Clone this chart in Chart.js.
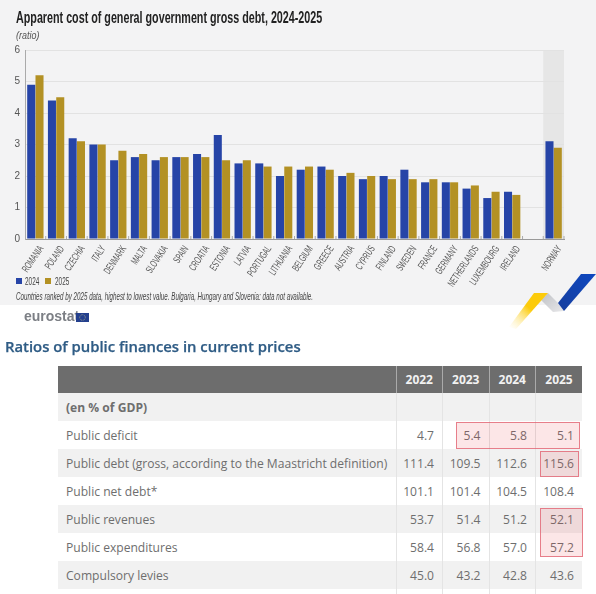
<!DOCTYPE html>
<html>
<head>
<meta charset="utf-8">
<script src="https://cdn.jsdelivr.net/npm/chart.js@4/dist/chart.umd.js"></script>
<style>
  html, body { margin: 0; padding: 0; background: #fff; }
  body { position: relative; width: 596px; height: 594px; overflow: hidden; }
  #panel { position: absolute; left: 0; top: 0; width: 596px; height: 305px; background: #f3f3f4; }
  #trend { position: absolute; left: 0; top: 0; }
  .narrow { position: absolute; font-family: "Liberation Sans", sans-serif; white-space: nowrap; transform-origin: left center; }
  #title { left: 16px; top: 8px; font-size: 16.5px; font-weight: bold; color: #222; }
  #unit { left: 16px; top: 29px; font-size: 10.5px; font-style: italic; color: #555; }
  #note { left: 16px; top: 290px; font-size: 11px; font-style: italic; color: #444; }
  .lg { position: absolute; top: 278px; width: 6px; height: 6px; }
  .lt { top: 275px; font-size: 11px; color: #444; }
  #logo { position: absolute; left: 24px; top: 308px; font: bold 14px "Liberation Sans", sans-serif; color: #7c7f85; }
  #flag { position: absolute; left: 76px; top: 313px; }
  #heading { position: absolute; left: 5px; top: 336px; font: 600 14.85px "Open Sans", sans-serif; color: #2f5c85; white-space: nowrap; -webkit-text-stroke: .25px #2f5c85; }
  #swoosh { position: absolute; left: 500px; top: 265px; }
  table { position: absolute; left: 58px; top: 366px; width: 524px; border-collapse: collapse; table-layout: fixed;
          font: 12.1px "Open Sans", sans-serif; color: #6e6e6e; }
  th { background: #6d6d6d; color: #f2f2f2; font-size: 12px; font-weight: bold; height: 27px; padding: 0; text-align: center; border-left: 1px solid #aaa; }
  th:first-child, td:first-child { border-left: 0; }
  td { height: 28px; padding: 0 8px 0 0; text-align: right; border-left: 1px solid #e4e4e4; }
  td:first-child { text-align: left; padding-left: 8px; white-space: nowrap; }
  tr:nth-child(odd) td { background: #f1f1f1; }
  .box { position: absolute; background: rgba(230, 60, 70, .13); border: 1px solid rgba(225, 100, 115, .8); box-sizing: border-box; }
</style>
</head>
<body>
<div id="panel"></div>
<canvas id="trend" width="596" height="305"></canvas>
<div id="title" class="narrow" data-w="306">Apparent cost of general government gross debt, 2024-2025</div>
<div id="unit" class="narrow" data-w="23">(ratio)</div>
<div class="lg" style="left:16px;background:#2644a7"></div>
<div class="narrow lt" style="left:25px" data-w="14">2024</div>
<div class="lg" style="left:45px;background:#b39124"></div>
<div class="narrow lt" style="left:55px" data-w="14">2025</div>
<div id="note" class="narrow" data-w="297">Countries ranked by 2025 data, highest to lowest value. Bulgaria, Hungary and Slovenia: data not available.</div>
<svg id="swoosh" width="96" height="70" viewBox="0 0 96 70">
  <defs>
    <linearGradient id="gy" x1="1" y1="0" x2="0" y2="1">
      <stop offset="0.45" stop-color="#fccb0a"/><stop offset="1" stop-color="#fff" stop-opacity="0.3"/>
    </linearGradient>
    <linearGradient id="gg" x1="0" y1="0" x2="1" y2="1">
      <stop offset="0" stop-color="#bfc1c5"/><stop offset="1" stop-color="#e8e8ea"/>
    </linearGradient>
    <linearGradient id="gb" x1="1" y1="0" x2="0" y2="1">
      <stop offset="0" stop-color="#0d47c0"/><stop offset="1" stop-color="#173f9e"/>
    </linearGradient>
  </defs>
  <polygon points="48,28 58,38 64,46 53,47 41,35" fill="url(#gg)"/>
  <polygon points="9,62 34,28 48,28 16,64" fill="url(#gy)"/>
  <polygon points="81,9 96,9 64,46 58,38" fill="url(#gb)"/>
</svg>
<div id="logo">eurostat</div>
<svg id="flag" width="13" height="9" viewBox="0 0 13 9">
  <rect width="13" height="9" fill="#24408e"/>
  <circle cx="6.5" cy="4.5" r="2.8" fill="none" stroke="#b9b98a" stroke-width="0.8" stroke-dasharray="0.8 0.8"/>
</svg>
<div id="heading">Ratios of public finances in current prices</div>
<table id="ratios"></table>
<div class="box" style="left:456px;top:422px;width:124px;height:27px"></div>
<div class="box" style="left:540px;top:451px;width:39px;height:26px"></div>
<div class="box" style="left:540px;top:508px;width:43px;height:49px"></div>

<script>
const countries = ['ROMANIA', 'POLAND', 'CZECHIA', 'ITALY', 'DENMARK', 'MALTA', 'SLOVAKIA', 'SPAIN', 'CROATIA',
    'ESTONIA', 'LATVIA', 'PORTUGAL', 'LITHUANIA', 'BELGIUM', 'GREECE', 'AUSTRIA', 'CYPRUS', 'FINLAND', 'SWEDEN',
    'FRANCE', 'GERMANY', 'NETHERLANDS', 'LUXEMBOURG', 'IRELAND', '', 'NORWAY'];
const cost2024 = [4.9, 4.4, 3.2, 3.0, 2.5, 2.6, 2.5, 2.6, 2.7, 3.3, 2.4, 2.4, 2.0, 2.2, 2.3, 2.0, 1.9, 2.0, 2.2, 1.8, 1.8, 1.6, 1.3, 1.5, null, 3.1];
const cost2025 = [5.2, 4.5, 3.1, 3.0, 2.8, 2.7, 2.6, 2.6, 2.6, 2.5, 2.5, 2.3, 2.3, 2.3, 2.2, 2.1, 2.0, 1.9, 1.9, 1.9, 1.8, 1.7, 1.5, 1.4, null, 2.9];
const yTicks = [0, 1, 2, 3, 4, 5, 6];

const tableYears = ['2022', '2023', '2024', '2025'];
const tableRows = [
    ['(en % of GDP)', '', '', '', ''],
    ['Public deficit', '4.7', '5.4', '5.8', '5.1'],
    ['Public debt (gross, according to the Maastricht definition)', '111.4', '109.5', '112.6', '115.6'],
    ['Public net debt*', '101.1', '101.4', '104.5', '108.4'],
    ['Public revenues', '53.7', '51.4', '51.2', '52.1'],
    ['Public expenditures', '58.4', '56.8', '57.0', '57.2'],
    ['Compulsory levies', '45.0', '43.2', '42.8', '43.6'],
    ['', '', '', '', ''],
];

const BLUE = '#2644a7';
const GOLD = '#b39124';
const SANS = '"Liberation Sans", sans-serif';

// bande grise derrière la Norvège (hors UE)
const norwayBand = {
    id: 'norwayBand',
    beforeDraw(chart) {
        const { ctx, chartArea, scales } = chart;
        if (!scales.x) return;
        const step = scales.x.width / countries.length;
        const cx = scales.x.getPixelForValue(countries.length - 1);
        ctx.save();
        ctx.fillStyle = '#e6e6e6';
        ctx.fillRect(cx - step / 2, chartArea.top, step, chartArea.height);
        ctx.restore();
    },
};

// pas de police condensée installée: étiquettes tournées et resserrées à la main
const narrowLabels = {
    id: 'narrowLabels',
    afterDraw(chart) {
        const { ctx, chartArea, scales } = chart;
        const step = scales.x.width / countries.length;
        ctx.save();
        ctx.fillStyle = '#555';
        ctx.strokeStyle = '#aaa';
        ctx.font = '10.5px ' + SANS;
        ctx.textAlign = 'right';
        ctx.textBaseline = 'middle';
        countries.forEach((name, i) => {
            const cx = scales.x.getPixelForValue(i);
            ctx.beginPath();
            ctx.moveTo(cx + step / 2, chartArea.bottom);
            ctx.lineTo(cx + step / 2, chartArea.bottom - 3);
            ctx.stroke();
            ctx.save();
            ctx.translate(cx + 6, chartArea.bottom + 8);
            ctx.rotate(-56 * Math.PI / 180);
            ctx.scale(0.6, 1);
            ctx.fillText(name, 0, 0);
            ctx.restore();
        });
        ctx.restore();
    },
};

new Chart(document.getElementById('trend'), {
    type: 'bar',
    plugins: [norwayBand, narrowLabels],
    data: {
        labels: countries,
        datasets: [
            { label: '2024', data: cost2024, backgroundColor: BLUE, borderWidth: 0 },
            { label: '2025', data: cost2025, backgroundColor: GOLD, borderWidth: 0 },
        ],
    },
    options: {
        responsive: false,
        animation: false,
        categoryPercentage: 0.8,
        barPercentage: 0.97,
        layout: { padding: { left: 0, right: 32, top: 50, bottom: 0 } },
        plugins: { legend: { display: false }, tooltip: { enabled: false } },
        scales: {
            x: {
                afterFit: (s) => { s.height = 66; },
                grid: { drawOnChartArea: false, drawTicks: false },
                border: { color: '#999' },
                ticks: { display: false },
            },
            y: {
                min: 0, max: 6,
                afterFit: (s) => { s.width = 25; },
                afterBuildTicks: (s) => { s.ticks = yTicks.map((v) => ({ value: v })); },
                grid: { color: '#e2e2e2', drawTicks: false },
                border: { color: '#aaa' },
                ticks: { padding: 5, color: '#555', font: { family: SANS, size: 10 } },
            },
        },
    },
});

const cell = (tag, text) => `<${tag}>${text}</${tag}>`;
document.getElementById('ratios').innerHTML =
    '<colgroup><col style="width:338px"><col><col><col><col></colgroup>' +
    '<thead><tr>' + cell('th', '') + tableYears.map((y) => cell('th', y)).join('') + '</tr></thead>' +
    '<tbody>' + tableRows.map((r, i) => '<tr>' + r.map((t, j) =>
        cell('td', i === 0 && j === 0 ? `<b>${t}</b>` : t)).join('') + '</tr>').join('') + '</tbody>';

// resserre les textes du panneau à la largeur voulue
document.querySelectorAll('.narrow').forEach((el) => {
    el.style.transform = `scaleX(${el.dataset.w / el.offsetWidth})`;
});
</script>
</body>
</html>
